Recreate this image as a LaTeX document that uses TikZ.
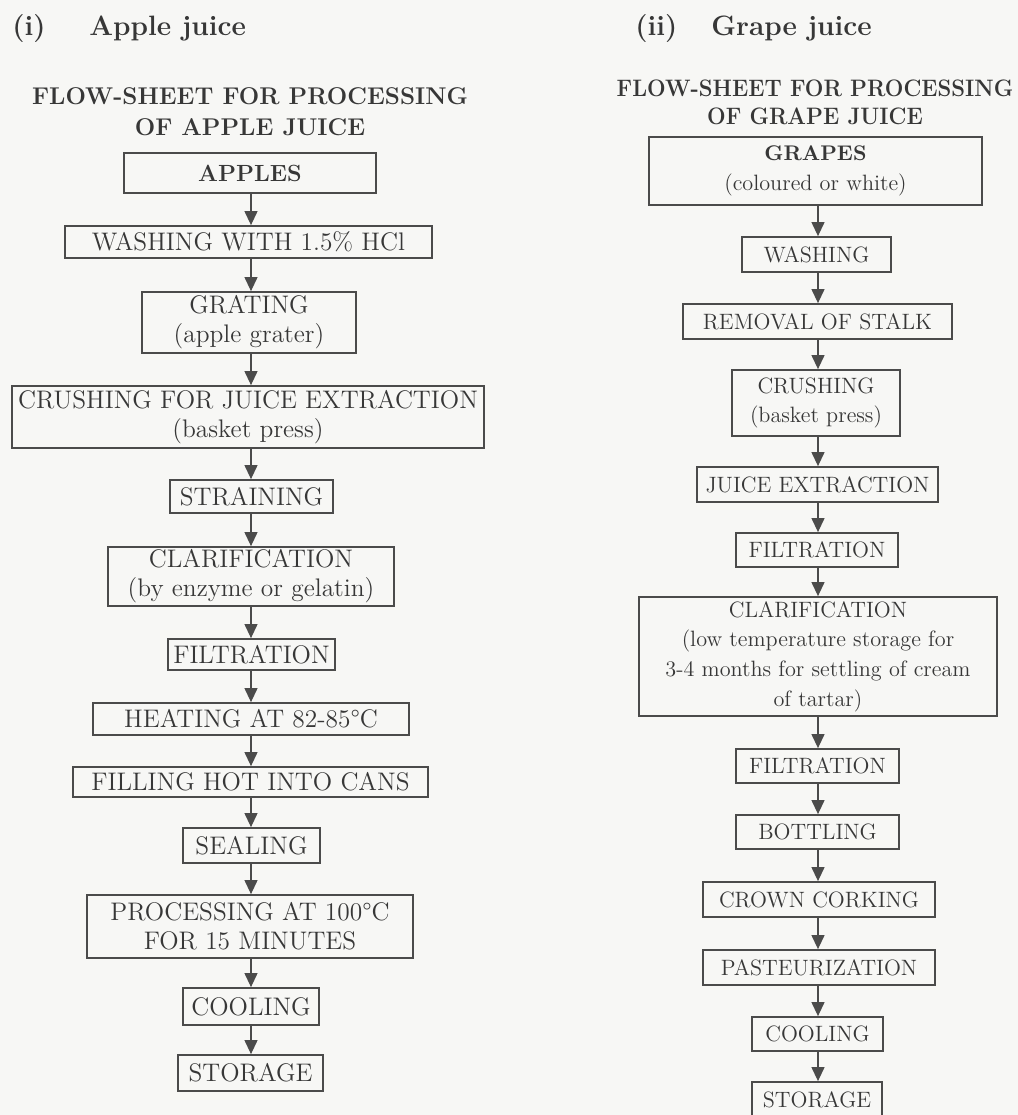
\documentclass[tikz,border=0pt]{standalone}
\usepackage{fontspec}
\setmainfont{Latin Modern Roman}
\usetikzlibrary{arrows.meta}
\definecolor{paper}{RGB}{247,247,245}
\definecolor{ink}{RGB}{55,55,55}
\definecolor{rule}{RGB}{75,75,75}
\tikzset{
  stage/.style={draw=rule, line width=0.9pt, inner sep=0pt, align=center, text=ink},
  sz/.style 2 args={minimum width={(#1)*0.5pt}, minimum height={(#2)*0.5pt}},
  lstage/.style={stage, font=\fontsize{12.7}{14.5}\selectfont},
  rstage/.style={stage, font=\fontsize{11.1}{14.8}\selectfont},
  flow/.style={draw=rule, line width=0.6pt, -{Triangle[width=6.5pt,length=7pt]}},
  heading/.style={anchor=base west, inner sep=0pt, text=ink, font=\bfseries\fontsize{14}{16}\selectfont},
  sheet/.style={inner sep=0pt, align=center, text=ink},
}
\begin{document}
\begin{tikzpicture}[x=0.5pt,y=-0.5pt]
\fill[paper] (0,0) rectangle (1018,1115);
\useasboundingbox (0,0) rectangle (1018,1115);

% column axes
\coordinate (L) at (251,0);
\coordinate (R) at (818,0);

% ---------- headings ----------
\node[heading] (hi)  at (12,35)  {(i)};
\node[heading] (hia) at (89,35)  {Apple juice};
\node[heading] (hii) at (635,35) {(ii)};
\node[heading] (hib) at (711,35) {Grape juice};

\node[sheet, font=\bfseries\fontsize{12.1}{15.5}\selectfont] (ltitle) at (250,112)
  {FLOW-SHEET FOR PROCESSING\\OF APPLE JUICE};
\node[sheet, font=\bfseries\fontsize{11.9}{14}\selectfont] (rtitle) at (815,105)
  {\scalebox{0.925}[1]{\begin{tabular}{@{}c@{}}FLOW-SHEET FOR PROCESSING\\OF GRAPE JUICE\end{tabular}}};

% ---------- apple juice ----------
\node[lstage, sz={252}{40}] (a1) at (250,173) {\bfseries\fontsize{11.7}{14}\selectfont APPLES};
\node[lstage, sz={367}{32}] (a2) at (248.5,242) {WASHING WITH 1.5\% HCl};
\node[lstage, sz={214}{61}] (a3) at (249,322.5) {GRATING\\(apple grater)};
\node[lstage, sz={472}{62}] (a4) at (248,417) {CRUSHING FOR JUICE EXTRACTION\\(basket press)};
\node[lstage, sz={163}{33}] (a5) at (251.5,496.5) {STRAINING};
\node[lstage, sz={286}{59}] (a6) at (251,576.5) {CLARIFICATION\\(by enzyme or gelatin)};
\node[lstage, sz={167}{31}] (a7) at (251.5,654.5) {FILTRATION};
\node[lstage, sz={316}{32}] (a8) at (251,719) {HEATING AT 82-85°C};
\node[lstage, sz={355}{30}] (a9) at (250.5,782) {FILLING HOT INTO CANS};
\node[lstage, sz={137}{35}] (a10) at (251.5,845.5) {SEALING};
\node[lstage, sz={326}{63}] (a11) at (250,926.5) {PROCESSING AT 100°C\\FOR 15 MINUTES};
\node[lstage, sz={136}{37}] (a12) at (251,1006.5) {COOLING};
\node[lstage, sz={145}{36}] (a13) at (250.5,1073) {STORAGE};

\foreach \u/\v in {a1/a2,a2/a3,a3/a4,a4/a5,a5/a6,a6/a7,a7/a8,a8/a9,a9/a10,a10/a11,a11/a12,a12/a13}
  \draw[flow] (\u.south -| L) -- (\v.north -| L);

% ---------- grape juice ----------
\node[rstage, sz={333}{68}] (g1) at (815.5,171)
  {{\bfseries\fontsize{10.6}{14}\selectfont GRAPES}\\(coloured or white)};
\node[rstage, sz={149}{35}] (g2) at (816.5,254.5) {WASHING};
\node[rstage, sz={269}{35}] (g3) at (817.5,321.5) {REMOVAL OF STALK};
\node[rstage, sz={168}{66}] (g4) at (816,403) {CRUSHING\\(basket press)};
\node[rstage, sz={241}{35}] (g5) at (817.5,484.5) {JUICE EXTRACTION};
\node[rstage, sz={162}{34}] (g6) at (817,550) {FILTRATION};
\node[rstage, sz={358}{119}] (g7) at (818,656.5)
  {CLARIFICATION\\(low temperature storage for\\3-4 months for settling of cream\\of tartar)};
\node[rstage, sz={163}{34}] (g8) at (817.5,766) {FILTRATION};
\node[rstage, sz={163}{34}] (g9) at (817.5,832) {BOTTLING};
\node[rstage, sz={232}{35}] (g10) at (819,899.5) {CROWN CORKING};
\node[rstage, sz={232}{35}] (g11) at (819,967.5) {PASTEURIZATION};
\node[rstage, sz={131}{34}] (g12) at (817.5,1034) {COOLING};
\node[rstage, sz={130}{36}] (g13) at (817,1100) {STORAGE};

\foreach \u/\v in {g1/g2,g2/g3,g3/g4,g4/g5,g5/g6,g6/g7,g7/g8,g8/g9,g9/g10,g10/g11,g11/g12,g12/g13}
  \draw[flow] (\u.south -| R) -- (\v.north -| R);
\end{tikzpicture}
\end{document}
